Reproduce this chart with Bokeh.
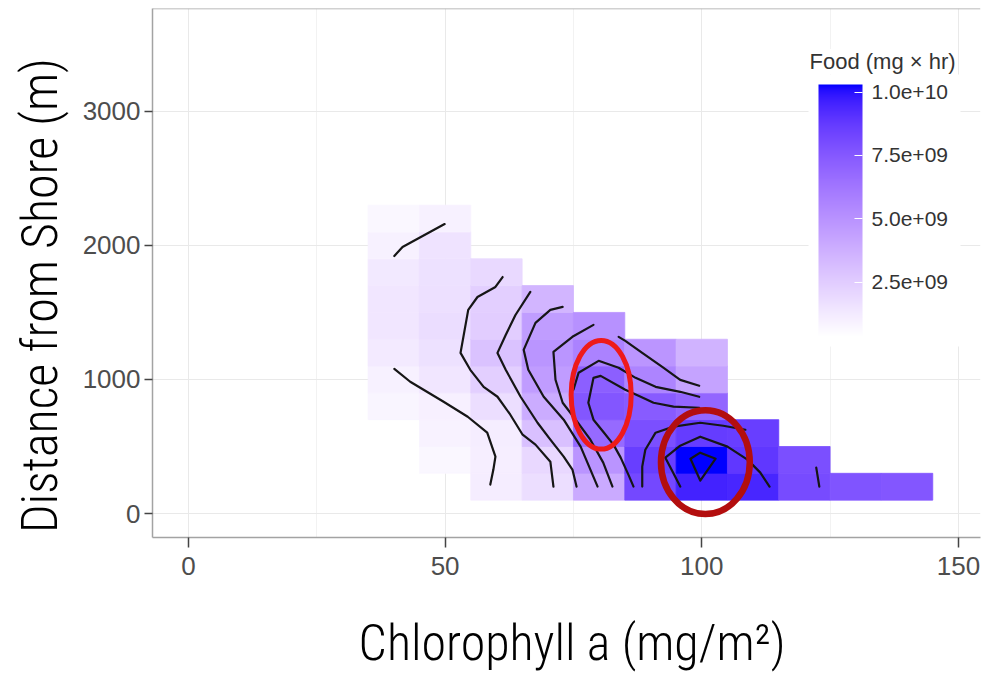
import numpy as np
from bokeh.plotting import figure
from bokeh.models import (ColumnDataSource, LinearColorMapper, ColorBar, FixedTicker, Label,
                          Span, CustomJSTickFormatter, Range1d)
from bokeh.embed import file_html
from bokeh.resources import INLINE

# ---------------- data ----------------
# tile centres: chlorophyll a (mg/m2), distance from shore (m), food (mg x hr)
chl = ([40] * 9 + [50] * 10 + [60] * 9 + [70] * 8 + [80] * 7 + [90] * 6 + [100] * 6
       + [110] * 3 + [120] * 2 + [130] + [140])
dist = ([600, 800, 1000, 1200, 1400, 1600, 1800, 2000, 2200]
        + [400, 600, 800, 1000, 1200, 1400, 1600, 1800, 2000, 2200]
        + [200, 400, 600, 800, 1000, 1200, 1400, 1600, 1800]
        + [200, 400, 600, 800, 1000, 1200, 1400, 1600]
        + [200, 400, 600, 800, 1000, 1200, 1400]
        + [200, 400, 600, 800, 1000, 1200]
        + [200, 400, 600, 800, 1000, 1200]
        + [200, 400, 600]
        + [200, 400]
        + [200]
        + [200])
food = ([0.35e9, 0.80e9, 0.95e9, 1.25e9, 1.40e9, 1.40e9, 1.30e9, 0.95e9, 0.70e9]
        + [0.70e9, 0.90e9, 1.00e9, 1.40e9, 1.65e9, 1.80e9, 1.70e9, 1.65e9, 1.55e9, 0.95e9]
        + [1.10e9, 1.05e9, 1.10e9, 1.75e9, 2.40e9, 2.97e9, 2.45e9, 2.40e9, 1.95e9]
        + [1.75e9, 2.00e9, 3.05e9, 3.90e9, 4.60e9, 4.91e9, 4.55e9, 3.50e9]
        + [4.00e9, 4.95e9, 6.80e9, 7.60e9, 7.25e9, 5.73e9, 5.07e9]
        + [8.20e9, 8.60e9, 7.90e9, 7.40e9, 5.60e9, 4.86e9]
        + [9.60e9, 10.30e9, 8.70e9, 6.95e9, 4.30e9, 3.60e9]
        + [9.45e9, 8.85e9, 8.60e9]
        + [8.05e9, 7.90e9]
        + [7.70e9]
        + [7.60e9])

# contour lines (x = chlorophyll, y = distance)
line_a_x = [40.1, 41.7, 49.9]
line_a_y = [1921, 1988, 2159]
line_b_x = [40.1, 43.2, 49.7, 54.4, 58.2, 59.8, 59.4, 58.8]
line_b_y = [1079, 983, 834, 722, 603, 424, 328, 216]
line_c_x = [61.2, 59.8, 56.3, 54.5, 53.0, 54.9, 57.5, 60.2, 62.7, 65.1, 67.6, 70.5, 71.1]
line_c_y = [1764, 1690, 1615, 1519, 1198, 1072, 945, 871, 737, 588, 514, 387, 201]
line_d_x = [66.6, 63.7, 61.8, 60.2, 61.8, 64.7, 68.0, 70.5, 73.1, 74.8, 75.6]
line_d_y = [1653, 1481, 1332, 1198, 1072, 871, 677, 551, 424, 328, 201]
line_e_x = [72.9, 70.5, 67.6, 65.3, 66.2, 69.2, 73.1, 76.4, 78.3, 79.7]
line_e_y = [1541, 1519, 1422, 1221, 1072, 871, 700, 499, 328, 201]
line_f_x = [78.9, 74.8, 71.1, 71.5, 72.9, 75.0, 78.3, 80.8, 82.6]
line_f_y = [1407, 1318, 1206, 998, 826, 722, 551, 380, 201]
line_u_x = [83.8, 85.1, 88.4, 92.3, 95.8, 99.5]
line_u_y = [1318, 1288, 1198, 1094, 997, 953]
line_g_x = [99.5, 95.8, 91.0, 87.1, 83.8, 79.9, 76.0, 75.0]
line_g_y = [871, 908, 945, 1012, 1087, 1139, 1050, 923]
line_h_x = [99.5, 94.5, 90.6, 88.1, 85.1, 80.3, 78.9, 77.9, 78.9, 80.8, 82.8, 84.2, 85.7, 86.7]
line_h_y = [789, 797, 826, 871, 923, 1027, 1012, 826, 700, 610, 514, 417, 290, 201]
line_p_x = [108.5, 104.2, 99.7, 94.5, 91.0, 89.0, 88.4, 88.4]
line_p_y = [625, 655, 677, 648, 603, 476, 350, 201]
line_q_x = [95.8, 94.3, 92.9, 95.8, 99.7, 105.0, 108.9, 111.4, 113.2]
line_q_y = [201, 313, 417, 506, 573, 499, 402, 305, 201]
line_r_x = [97.8, 99.7, 102.7, 99.7, 97.8]
line_r_y = [409, 454, 409, 246, 409]
line_s_x = [122.3, 122.9]
line_s_y = [342, 201]

# highlighted regions (red ellipses)
ell_x = [80.4, 100.7]
ell_y = [886, 383]
ell_w = [11.7, 17.3]
ell_h = [811, 774]

x_ticks = [0, 50, 100, 150]
x_minor = [25, 75, 125]
y_ticks = [0, 1000, 2000, 3000]
legend_ticks = [2.5e9, 5.0e9, 7.5e9, 1.0e10]

# ---------------- colour scale: white -> blue, Lab interpolation ----------------
M = np.array([[0.4124564, 0.3575761, 0.1804375],
              [0.2126729, 0.7151522, 0.0721750],
              [0.0193339, 0.1191920, 0.9503041]])
WHITE = M @ np.ones(3)
D = 6 / 29


def to_lab(hexcol):
    rgb = np.array([int(hexcol[i:i + 2], 16) for i in (1, 3, 5)]) / 255.0
    lin = np.where(rgb <= 0.04045, rgb / 12.92, ((rgb + 0.055) / 1.055) ** 2.4)
    xyz = (M @ lin) / WHITE
    f = np.where(xyz > D ** 3, np.cbrt(xyz), xyz / (3 * D * D) + 4 / 29)
    return np.array([116 * f[1] - 16, 500 * (f[0] - f[1]), 200 * (f[1] - f[2])])


def to_hex(lab):
    fy = (lab[0] + 16) / 116
    f = np.array([fy + lab[1] / 500, fy, fy - lab[2] / 200])
    xyz = np.where(f > D, f ** 3, 3 * D * D * (f - 4 / 29)) * WHITE
    lin = np.clip(np.linalg.solve(M, xyz), 0, 1)
    rgb = np.where(lin <= 0.0031308, 12.92 * lin, 1.055 * lin ** (1 / 2.4) - 0.055)
    r, g, b = np.clip(np.round(rgb * 255), 0, 255).astype(int)
    return "#%02x%02x%02x" % (r, g, b)


lo_lab, hi_lab = to_lab("#ffffff"), to_lab("#0000ff")
palette = [to_hex(lo_lab + (hi_lab - lo_lab) * t) for t in np.linspace(0, 1, 256)]
mapper = LinearColorMapper(palette=palette, low=min(food), high=max(food))

# ---------------- figure ----------------
FONT = "Liberation Sans"
NARROW = ("'Roboto Condensed Light', 'Roboto Condensed', 'DejaVu Sans Condensed', "
          "'Liberation Sans Narrow', Roboto, sans-serif")

p = figure(width=985, height=674, output_backend="svg", toolbar_location=None,
           x_range=Range1d(-7.01, 154.3), y_range=Range1d(-178.7, 3766.8),
           min_border_left=152, min_border_right=5, min_border_top=8, min_border_bottom=136)
p.background_fill_color = "white"
p.border_fill_color = "white"
p.outline_line_color = None

src = ColumnDataSource(dict(chl=chl, dist=dist, food=food))
p.rect(x="chl", y="dist", width=10, height=200, source=src,
       fill_color={"field": "food", "transform": mapper},
       line_color={"field": "food", "transform": mapper}, line_width=0.8)

contour_xs = [line_a_x, line_b_x, line_c_x, line_d_x, line_e_x, line_f_x, line_u_x,
              line_g_x, line_h_x, line_p_x, line_q_x, line_r_x, line_s_x]
contour_ys = [line_a_y, line_b_y, line_c_y, line_d_y, line_e_y, line_f_y, line_u_y,
              line_g_y, line_h_y, line_p_y, line_q_y, line_r_y, line_s_y]
p.multi_line(xs=contour_xs, ys=contour_ys, line_color="#161616", line_width=2.2,
             line_join="round", line_cap="round")

p.ellipse(x=ell_x, y=ell_y, width=ell_w, height=ell_h, fill_color=None,
          line_color=["#ee1a1a", "#b30e0e"], line_width=[5, 6.5])

# grid
p.xgrid.ticker = FixedTicker(ticks=x_ticks, minor_ticks=x_minor)
p.ygrid.ticker = FixedTicker(ticks=y_ticks)
p.xgrid.grid_line_color = "#e9e9e9"
p.ygrid.grid_line_color = "#e9e9e9"
p.xgrid.minor_grid_line_color = "#f2f2f2"
p.xgrid.level = "underlay"
p.ygrid.level = "underlay"

# axes
for ax, ticks in ((p.xaxis, x_ticks), (p.yaxis, y_ticks)):
    ax.ticker = FixedTicker(ticks=ticks)
    ax.axis_line_color = "#a3a3a3"
    ax.axis_line_width = 1.5
    ax.major_tick_line_color = "#444444"
    ax.major_tick_line_width = 1.5
    ax.minor_tick_line_color = None
    ax.major_tick_in = 0
    ax.major_label_text_font = FONT
    ax.major_label_text_font_size = "26px"
    ax.major_label_text_color = "#4d4d4d"
    ax.axis_label_text_font = NARROW
    ax.axis_label_text_font_size = "50px"
    ax.axis_label_text_font_style = "normal"
    ax.axis_label_text_color = "black"
p.xaxis.major_tick_out = 10
p.xaxis.major_label_standoff = 9
p.yaxis.major_tick_out = 8
p.yaxis.major_label_standoff = 4

p.xaxis.axis_label = "\u00a0Chlorophyll a (mg/m\u00b2)"
p.xaxis.axis_label_standoff = 36
p.yaxis.axis_label = "Distance from Shore (m)" + "\u00a0" * 4
p.yaxis.axis_label_standoff = 11

p.add_layout(Span(location=3766.8, dimension="width", line_color="#a3a3a3", line_width=1.5))

# colour bar legend
cb = ColorBar(color_mapper=mapper, location=(656, 191), width=44, height=252, padding=10,
              ticker=FixedTicker(ticks=legend_ticks),
              formatter=CustomJSTickFormatter(code="var s = tick.toExponential(1); return s.replace(/e\\+(\\d)$/, 'e+0$1');"),
              major_label_text_font=FONT, major_label_text_font_size="21px",
              major_label_text_color="#333333", label_standoff=9,
              major_tick_line_color="white", major_tick_in=8, major_tick_out=0,
              minor_tick_line_color=None, bar_line_color=None, border_line_color=None,
              background_fill_color="white", background_fill_alpha=1.0)
p.add_layout(cb, "center")

p.add_layout(Label(x=657, y=476, x_units="screen", y_units="screen",
                   text="Food (mg \u00d7 hr)", text_font=FONT, text_font_size="22px",
                   text_color="#333333", text_align="left", text_baseline="alphabetic",
                   background_fill_color="white"))

open("out.html", "w").write(file_html(p, INLINE))
